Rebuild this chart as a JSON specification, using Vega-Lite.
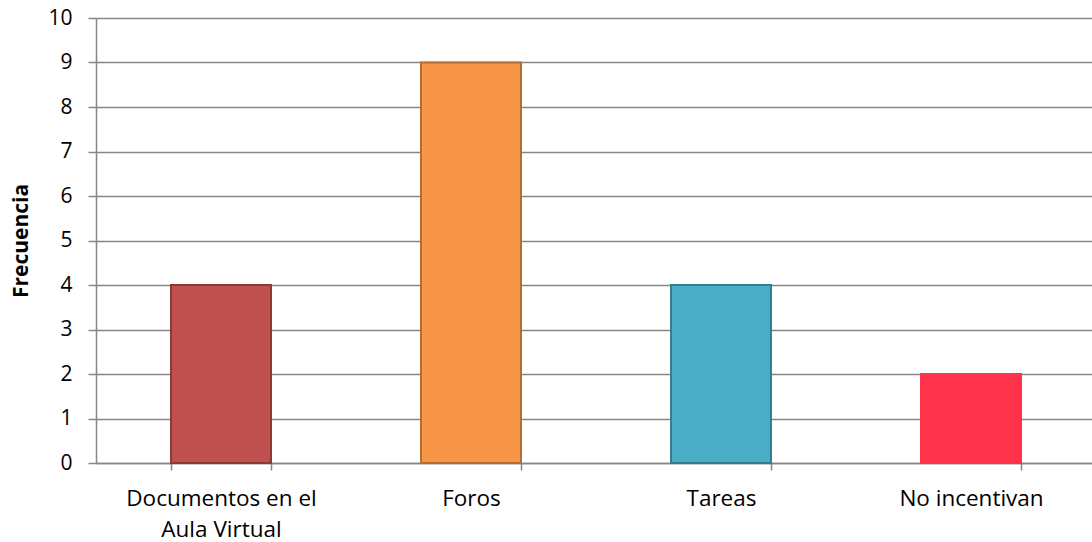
{
  "$schema": "https://vega.github.io/schema/vega-lite/v6.json",
  "autosize": "none",
  "width": 1000,
  "height": 445,
  "padding": {"left": 96, "top": 18, "right": 0, "bottom": 79},
  "background": "white",
  "config": {
    "font": "Open Sans",
    "view": {"stroke": null}
  },
  "data": {
    "values": [
      {"categoria": "Documentos en el Aula Virtual", "frecuencia": 4},
      {"categoria": "Foros", "frecuencia": 9},
      {"categoria": "Tareas", "frecuencia": 4},
      {"categoria": "No incentivan", "frecuencia": 2}
    ]
  },
  "mark": {"type": "bar", "strokeWidth": 2},
  "encoding": {
    "x": {
      "field": "categoria",
      "type": "nominal",
      "sort": null,
      "scale": {"paddingInner": 0.6, "paddingOuter": 0.3},
      "axis": {
        "title": null,
        "labelAngle": 0,
        "labelFont": "Open Sans",
        "labelFontSize": 22.5,
        "labelColor": "#000000",
        "labelPadding": 17,
        "labelLineHeight": 31,
        "labelLimit": 400,
        "labelExpr": "datum.label == 'Documentos en el Aula Virtual' ? ['Documentos en el', 'Aula Virtual'] : datum.label",
        "tickBand": "extent",
        "tickSize": 7,
        "tickColor": "#868686",
        "domainColor": "#868686",
        "domainWidth": 1.5,
        "tickWidth": 1.5,
        "grid": false
      }
    },
    "y": {
      "field": "frecuencia",
      "type": "quantitative",
      "scale": {"domain": [0, 10]},
      "axis": {
        "title": "Frecuencia",
        "titleFont": "Open Sans",
        "titleFontSize": 21,
        "titleFontWeight": "bold",
        "titleColor": "#000000",
        "titlePadding": 16,
        "values": [0, 1, 2, 3, 4, 5, 6, 7, 8, 9, 10],
        "labelFont": "Open Sans",
        "labelFontSize": 21,
        "labelColor": "#000000",
        "labelPadding": 16,
        "tickSize": 8,
        "tickColor": "#868686",
        "tickWidth": 1.5,
        "domainColor": "#868686",
        "domainWidth": 1.5,
        "grid": true,
        "gridColor": "#868686",
        "gridWidth": 1.5
      }
    },
    "color": {
      "field": "categoria",
      "type": "nominal",
      "sort": null,
      "scale": {
        "domain": ["Documentos en el Aula Virtual", "Foros", "Tareas", "No incentivan"],
        "range": ["#C0504D", "#F79646", "#4BACC6", "#FF324B"]
      },
      "legend": null
    },
    "stroke": {
      "field": "categoria",
      "type": "nominal",
      "sort": null,
      "scale": {
        "domain": ["Documentos en el Aula Virtual", "Foros", "Tareas", "No incentivan"],
        "range": ["#8C3836", "#B66D31", "#357D91", "#FF324B"]
      },
      "legend": null
    }
  }
}
